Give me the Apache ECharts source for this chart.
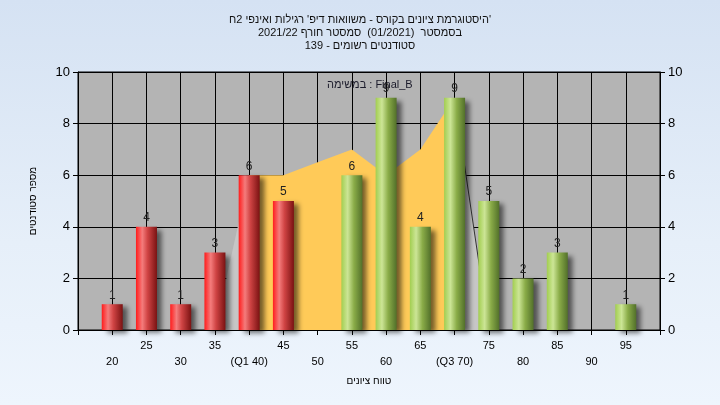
<!DOCTYPE html>
<html><head><meta charset="utf-8">
<script src="https://cdn.jsdelivr.net/npm/echarts@6/dist/echarts.min.js"></script>
<style>
html,body{margin:0;padding:0;}
#c{width:720px;height:405px;background:linear-gradient(to bottom,#d5e2f3 0%,#e6eff9 60%,#eef5fd 100%);}
</style>
</head><body><div id="c"></div>
<script>
const titleLines = [
  "היסטוגרמת ציונים בקורס - משוואות דיפ' רגילות ואינפי 2ח'",
  "בסמסטר  (01/2021)  סמסטר חורף 2021/22",
  "סטודנטים רשומים - 139"
];
const legendName = "במשימה : Final_B";
const xAxisName = "טווח ציונים";
const yAxisName = "מספר סטודנטים";

const scoreBins = [20, 25, 30, 35, 40, 45, 50, 55, 60, 65, 70, 75, 80, 85, 90, 95];
const counts    = [1, 4, 1, 3, 6, 5, 0, 6, 9, 4, 9, 5, 2, 3, 0, 1];
const binLabels = ['20','25','30','35','(Q1 40)','45','50','55','60','65','(Q3 70)','75','80','85','90','95'];
const passScore = 50;

const curveX = [35, 40, 45, 50, 55, 60, 65, 70, 75];
const curveY = [0, 6, 6, 6.5, 7, 6, 7, 9, 0];
const q1 = 40, q3 = 70;

const yMin = 0, yMax = 10, yStep = 2;
const xMin = 15, xMax = 100, xStep = 5;

const FONT = 'Liberation Sans, Arial, sans-serif';
const chart = echarts.init(document.getElementById('c'));

const curvePts = curveX.map((x, i) => [x, curveY[i]]);
const leftPts = curvePts.filter(p => p[0] <= q1);
const midPts = curvePts.filter(p => p[0] >= q1 && p[0] <= q3);
const rightPts = curvePts.filter(p => p[0] >= q3);

const redGrad = new echarts.graphic.LinearGradient(0, 0, 1, 0, [
  {offset: 0, color: '#ff1c1c'}, {offset: 0.3, color: '#f47c7c'},
  {offset: 0.55, color: '#d04444'}, {offset: 1, color: '#7a1212'}]);
const greenGrad = new echarts.graphic.LinearGradient(0, 0, 1, 0, [
  {offset: 0, color: '#a2ce50'}, {offset: 0.3, color: '#cce596'},
  {offset: 0.6, color: '#8aac48'}, {offset: 1, color: '#52702a'}]);

const barData = scoreBins.map((x, i) => ({
  value: [x, counts[i]],
  itemStyle: {color: x < passScore ? redGrad : greenGrad}
}));

const axisLineStyle = {color: '#000', width: 1};

chart.setOption({
  animation: false,
  textStyle: {fontFamily: FONT},
  title: {
    text: titleLines.join('\n'),
    left: 'center', top: 8,
    textStyle: {fontSize: 11, fontWeight: 'normal', color: '#111', lineHeight: 13, fontFamily: FONT}
  },
  legend: {
    data: [{name: legendName, icon: 'none'}],
    left: 322, top: 79, padding: 0, itemWidth: 0, itemHeight: 0, itemGap: 0,
    selectedMode: false,
    textStyle: {fontSize: 11, color: '#1a1a2a', fontFamily: FONT}
  },
  grid: {
    left: 78, right: 60, top: 72, bottom: 75,
    show: true, backgroundColor: '#b4b4b4', borderColor: '#000', borderWidth: 1
  },
  xAxis: {
    type: 'value', min: xMin, max: xMax, interval: xStep,
    axisLine: {show: true, lineStyle: axisLineStyle},
    axisTick: {show: true, length: 5, lineStyle: axisLineStyle},
    splitLine: {show: true, lineStyle: {color: '#000', width: 1}},
    axisLabel: {
      fontSize: 11, color: '#000', lineHeight: 16, margin: 8,
      showMinLabel: true, showMaxLabel: true,
      formatter: v => {
        const i = scoreBins.indexOf(v);
        if (i < 0) return '';
        return i % 2 === 0 ? '\n' + binLabels[i] : binLabels[i];
      }
    },
    name: xAxisName, nameLocation: 'middle', nameGap: 46,
    nameTextStyle: {fontSize: 10, color: '#000'}
  },
  yAxis: [{
    type: 'value', min: yMin, max: yMax, interval: yStep, position: 'left',
    axisLine: {show: true, lineStyle: axisLineStyle},
    axisTick: {show: true, length: 5, lineStyle: axisLineStyle},
    splitLine: {show: true, lineStyle: {color: '#000', width: 1}},
    axisLabel: {fontSize: 13, color: '#000', margin: 8},
    name: yAxisName, nameLocation: 'middle', nameGap: 40, nameRotate: 90,
    nameTextStyle: {fontSize: 10, color: '#000'}
  }, {
    type: 'value', min: yMin, max: yMax, interval: yStep, position: 'right',
    axisLine: {show: true, lineStyle: axisLineStyle},
    axisTick: {show: true, length: 5, lineStyle: axisLineStyle},
    splitLine: {show: false},
    axisLabel: {fontSize: 13, color: '#000', margin: 8}
  }],
  series: [{
    type: 'line', data: leftPts, showSymbol: false, silent: true, z: 1,
    lineStyle: {width: 0}, areaStyle: {color: '#c6c6c6', opacity: 1}
  }, {
    type: 'line', data: midPts, showSymbol: false, silent: true, z: 1,
    lineStyle: {width: 0}, areaStyle: {color: '#ffca58', opacity: 1}
  }, {
    type: 'line', data: rightPts, showSymbol: false, silent: true, z: 1,
    lineStyle: {width: 1, color: '#333'}, areaStyle: {color: '#c6c6c6', opacity: 1}
  }, {
    name: legendName, type: 'bar', data: barData, barWidth: 21, z: 5,
    itemStyle: {shadowColor: 'rgba(0,0,0,0.55)', shadowBlur: 5, shadowOffsetX: 5, shadowOffsetY: 3},
    label: {
      show: true, position: 'top', distance: 3, fontSize: 12, color: '#222',
      formatter: p => p.value[1] ? String(p.value[1]) : ''
    }
  }]
});
</script>
</body></html>
